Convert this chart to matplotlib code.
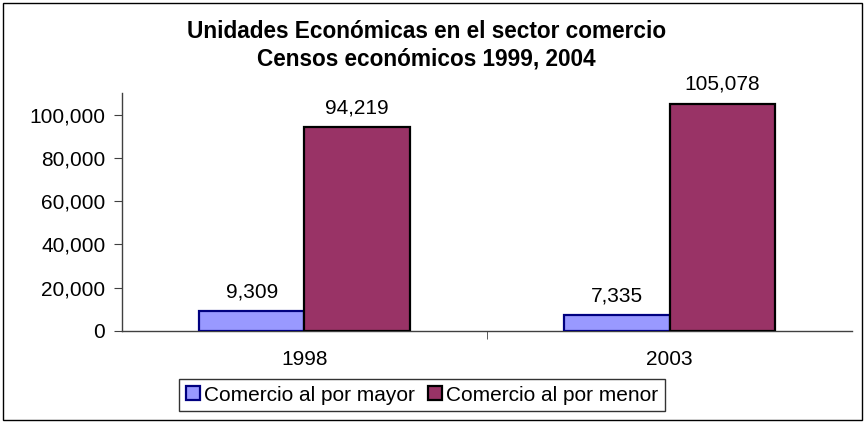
import matplotlib.pyplot as plt
import matplotlib.patches as mpatches
import numpy as np

plt.rcParams["font.family"] = ["Liberation Sans", "DejaVu Sans"]

# census years and counts of economic units
YEARS = ["1998", "2003"]
MAYOR = [9309, 7335]
MENOR = [94219, 105078]
SERIES = ["Comercio al por mayor", "Comercio al por menor"]
Y_TICKS = [0, 20000, 40000, 60000, 80000, 100000]


def plot_chart():
    fig = plt.figure(figsize=(8.65, 4.23), dpi=100)
    ax = fig.add_axes([0.141, 0.2175, 0.844, 0.5625])

    x = np.arange(len(YEARS))
    w = 0.288
    b1 = ax.bar(x - w / 2, MAYOR, w, color="#9999FF", edgecolor="#000080",
                linewidth=1.6, zorder=3)
    b2 = ax.bar(x + w / 2, MENOR, w, color="#993366", edgecolor="black",
                linewidth=1.6, zorder=3)

    for bars, vals in ((b1, MAYOR), (b2, MENOR)):
        for rect, v in zip(bars, vals):
            ax.annotate(f"{v:,}", (rect.get_x() + rect.get_width() / 2, v),
                        xytext=(0, 7), textcoords="offset points",
                        ha="center", va="bottom", fontsize=15)

    ax.set_xlim(-0.5, 1.5)
    ax.set_ylim(0, 110000)
    ax.set_yticks(Y_TICKS)
    ax.set_yticklabels([f"{t:,}" for t in Y_TICKS], fontsize=15)
    ax.set_xticks(x)
    ax.set_xticklabels(YEARS, fontsize=15)
    ax.tick_params(axis="x", length=0, pad=14)
    ax.set_xticks([0.5], minor=True)
    ax.tick_params(axis="x", which="minor", length=6, direction="out", color="#404040")
    ax.tick_params(axis="y", length=6, direction="out", color="#404040", pad=6)

    for s in ("top", "right"):
        ax.spines[s].set_visible(False)
    for s in ("left", "bottom"):
        ax.spines[s].set_color("#404040")
        ax.spines[s].set_linewidth(1.0)

    fig.text(0.493, 0.893,
             "Unidades Económicas en el sector comercio\nCensos económicos 1999, 2004",
             ha="center", va="center", fontsize=16.3, fontweight="bold", linespacing=1.2)

    handles = [mpatches.Patch(facecolor="#9999FF", edgecolor="#000080", linewidth=1.6),
               mpatches.Patch(facecolor="#993366", edgecolor="black", linewidth=1.6)]
    leg = fig.legend(handles, SERIES, loc="center", bbox_to_anchor=(0.488, 0.066),
                     ncol=2, fontsize=15, frameon=True, fancybox=False,
                     handlelength=0.67, handleheight=0.67, handletextpad=0.22,
                     columnspacing=0.62, borderpad=0.3, borderaxespad=0)
    leg.get_frame().set_edgecolor("black")
    leg.get_frame().set_linewidth(1.0)

    border = mpatches.Rectangle((0.004, 0.006), 0.992, 0.988, transform=fig.transFigure,
                                fill=False, edgecolor="black", linewidth=1.0)
    fig.patches.append(border)

    fig.savefig("out.png", dpi=100)


if __name__ == "__main__":
    plot_chart()
